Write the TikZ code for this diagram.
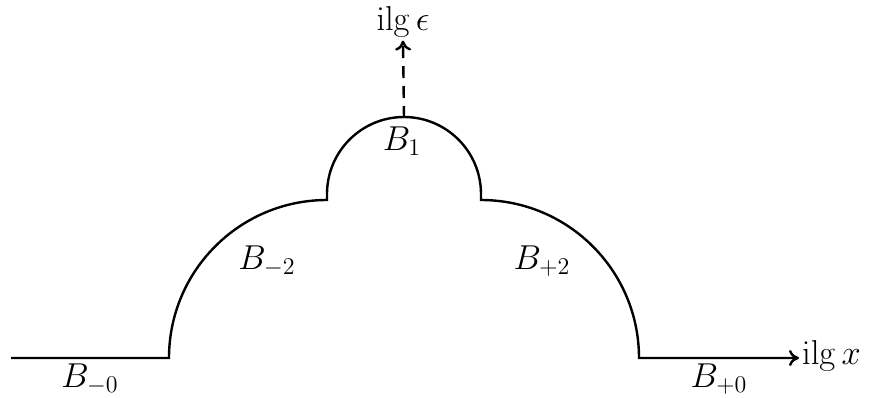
\documentclass[tikz,border=0pt]{standalone}
\usetikzlibrary{arrows.meta}
\tikzset{
  every picture/.style={line width=1.2pt},
  lbl/.style={font=\LARGE, inner sep=1pt},
  axarrow/.style={-{To[length=5pt,width=8pt]}},
}
\begin{document}
\begin{tikzpicture}[x=0.5pt, y=-0.5pt]
  \useasboundingbox (0,0) rectangle (869,397);
  % labels
  \node[lbl, anchor=west] (ilgx) at (799,356) {$\mathrm{ilg}\,x$};
  \node[lbl] (ilge) at (403,22) {$\mathrm{ilg}\,\epsilon$};
  \node[lbl] (b1) at (402,141) {$B_1$};
  \node[lbl] (bm2) at (267,261) {$B_{-2}$};
  \node[lbl] (bp2) at (542,261) {$B_{+2}$};
  \node[lbl] (bm0) at (90,379) {$B_{-0}$};
  \node[lbl] (bp0) at (719,379) {$B_{+0}$};
  % the boundary
  \coordinate (top) at (404,118);
  \draw[axarrow] (11,358) -- (169,358)
    arc[start angle=180, end angle=270, radius=158] -- (327,194)
    arc[start angle=180, end angle=360, radius=77] -- (481,200)
    arc[start angle=270, end angle=360, radius=158] -- (ilgx.west |- 0,358);
  \draw[axarrow, dash pattern=on 6pt off 4pt] (top) -- (ilge.south);
\end{tikzpicture}
\end{document}
